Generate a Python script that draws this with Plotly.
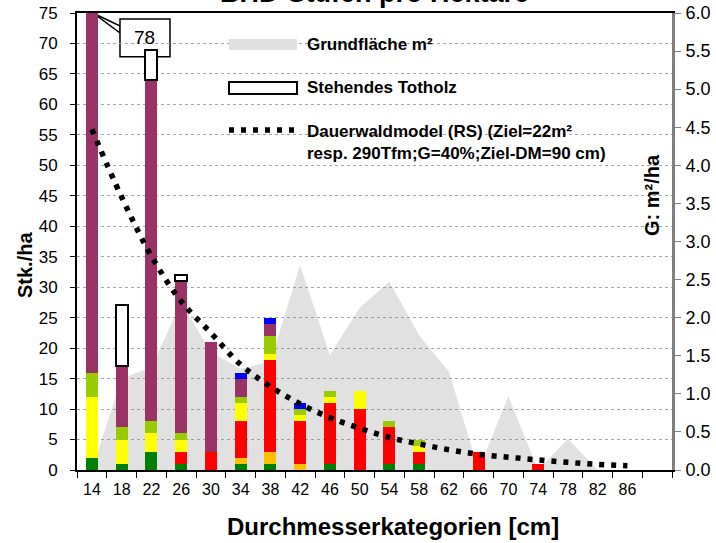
import plotly.graph_objects as go

categories = [14, 18, 22, 26, 30, 34, 38, 42, 46, 50, 54, 58, 62, 66, 70, 74, 78, 82, 86]
green      = [2, 1, 3, 1, 0, 1, 1, 0, 1, 0, 1, 1, 0, 0, 0, 0, 0, 0, 0]
orange     = [0, 0, 0, 0, 0, 1, 2, 1, 0, 0, 0, 0, 0, 0, 0, 0, 0, 0, 0]
red        = [0, 0, 0, 2, 3, 6, 15, 7, 10, 10, 6, 2, 0, 3, 0, 1, 0, 0, 0]
yellow     = [10, 4, 3, 2, 0, 3, 1, 1, 1, 3, 0, 1, 0, 0, 0, 0, 0, 0, 0]
lightgreen = [4, 2, 2, 1, 0, 1, 3, 1, 1, 0, 1, 1, 0, 0, 0, 0, 0, 0, 0]
purple     = [62, 10, 56, 25, 18, 3, 2, 0, 0, 0, 0, 0, 0, 0, 0, 0, 0, 0, 0]
blue       = [0, 0, 0, 0, 0, 1, 1, 1, 0, 0, 0, 0, 0, 0, 0, 0, 0, 0, 0]
totholz    = [0, 10, 5, 1, 0, 0, 0, 0, 0, 0, 0, 0, 0, 0, 0, 0, 0, 0, 0]
grundflaeche = [0.0, 1.2, 1.35, 2.2, 1.55, 1.33, 1.42, 2.69, 1.51, 2.13, 2.47,
                1.77, 1.29, 0.0, 0.97, 0.0, 0.41, 0.0, 0.0]
dauerwald  = [55.9, 44.8, 35.1, 27.7, 22.5, 17.3, 13.7, 10.85, 8.6, 6.85, 5.33,
              4.27, 3.33, 2.58, 2.1, 1.66, 1.26, 0.92, 0.7]
tick_labels = [str(c) for c in categories]

FONT = "Liberation Sans, Arial, sans-serif"

def nz(a):
    return [v if v else None for v in a]

fig = go.Figure()

# basal area (right axis = base y axis, so it is drawn beneath the bars)
fig.add_trace(go.Scatter(x=categories, y=grundflaeche, mode="lines", fill="tozeroy",
                         line=dict(width=0, color="rgba(0,0,0,0)"),
                         fillcolor="rgba(128,128,128,0.24)", yaxis="y", hoverinfo="skip",
                         showlegend=False))

stack = [(green, "#008000"), (orange, "#FFC000"), (red, "#FF0000"), (yellow, "#FFFF00"),
         (lightgreen, "#99CC00"), (purple, "#993366"), (blue, "#0000FF")]
for vals, col in stack:
    fig.add_trace(go.Bar(x=categories, y=nz(vals), width=1.6,
                         marker=dict(color=col, line=dict(width=0)),
                         yaxis="y2", showlegend=False))
fig.add_trace(go.Bar(x=categories, y=nz(totholz), width=1.6,
                     marker=dict(color="white", line=dict(width=2, color="black")),
                     yaxis="y2", showlegend=False))

fig.add_trace(go.Scatter(x=categories, y=dauerwald, mode="lines", line_shape="spline",
                         line=dict(color="black", width=5.5, dash="5px,7px"),
                         yaxis="y2", showlegend=False))

total14 = green[0] + orange[0] + red[0] + yellow[0] + lightgreen[0] + purple[0] + blue[0]

LEFT_MAX, RIGHT_MAX = 75, 6
k = RIGHT_MAX / LEFT_MAX  # convert left-axis units to base (right) axis units

fig.update_layout(
    width=716, height=543,
    margin=dict(l=77, r=44, t=13, b=73, autoexpand=False),
    paper_bgcolor="white", plot_bgcolor="white",
    barmode="stack", bargap=0,
    font=dict(family=FONT, color="black", size=16),
    showlegend=False,
    xaxis=dict(range=[12, 92], tickmode="array", tickvals=categories, ticktext=tick_labels,
               ticks="", showline=True, linecolor="black", linewidth=2, mirror=True,
               showgrid=False, zeroline=False, ticklabelstandoff=4, automargin=False,
               tickfont=dict(family=FONT, size=16),
               minor=dict(tickmode="linear", tick0=12, dtick=4, ticks="outside",
                          ticklen=6, tickcolor="black", tickwidth=1, showgrid=False)),
    yaxis=dict(side="right", range=[0, RIGHT_MAX], dtick=0.5, tickformat=".1f",
               showline=True, linecolor="#808080", linewidth=3, ticks="outside",
               tickcolor="#808080", ticklen=6, tickwidth=1, showgrid=False, zeroline=False,
               ticklabelstandoff=1, automargin=False,
               tickfont=dict(family=FONT, size=18)),
    yaxis2=dict(side="left", overlaying="y", range=[0, LEFT_MAX], dtick=5,
                showline=True, linecolor="black", linewidth=2, ticks="outside",
                ticklen=5, tickcolor="black", tickwidth=1, ticklabelstandoff=9,
                showgrid=True, gridcolor="#a6a6a6", griddash="dot", gridwidth=1,
                zeroline=False, automargin=False, tickfont=dict(family=FONT, size=17)),
)

# callout box for the clipped first bar
fig.add_shape(type="path", xref="x", yref="y", layer="below",
              path=f"M 14.15 {75*k} L 17.8 {72.87*k} L 17.8 {71.72*k} Z",
              fillcolor="white", line=dict(color="black", width=1.5))
fig.add_shape(type="rect", xref="x", yref="y", layer="below",
              x0=17.78, x1=24.5, y0=67.83 * k, y1=74.02 * k,
              fillcolor="white", line=dict(color="black", width=1.5))
fig.add_annotation(x=21.14, y=70.9 * k, xref="x", yref="y", text=str(total14), showarrow=False,
                   xanchor="center", yanchor="middle",
                   font=dict(family=FONT, size=19))

# legend (drawn manually)
fig.add_shape(type="rect", xref="paper", yref="paper", x0=0.2555, x1=0.3697, y0=0.919, y1=0.9431,
              fillcolor="#e0e0e0", line=dict(width=0))
fig.add_shape(type="rect", xref="paper", yref="paper", x0=0.2555, x1=0.3697, y0=0.8228, y1=0.849,
              fillcolor="white", line=dict(width=2, color="black"))
fig.add_shape(type="line", xref="paper", yref="paper", x0=0.2555, x1=0.37, y0=0.744, y1=0.744,
              line=dict(width=5.5, color="black", dash="5px,7px"))
leg_font = dict(family=FONT, size=17, color="black")
fig.add_annotation(x=0.3832, y=0.930, xref="paper", yref="paper", xanchor="left", yanchor="middle",
                   text="<b>Grundfläche m²</b>", showarrow=False, font=leg_font)
fig.add_annotation(x=0.3832, y=0.8359, xref="paper", yref="paper", xanchor="left", yanchor="middle",
                   text="<b>Stehendes Totholz</b>", showarrow=False, font=leg_font)
fig.add_annotation(x=0.3832, y=0.7177, xref="paper", yref="paper", xanchor="left", yanchor="middle",
                   align="left",
                   text="<b>Dauerwaldmodel (RS) (Ziel=22m²<br>resp. 290Tfm;G=40%;Ziel-DM=90 cm)</b>",
                   showarrow=False, font=leg_font)

# axis titles
fig.add_annotation(x=(25 - 77) / 595, y=(470 - 265) / 457, xref="paper", yref="paper",
                   xanchor="center", yanchor="middle", text="<b>Stk./ha</b>",
                   textangle=-90, showarrow=False, font=dict(family=FONT, size=20))
fig.add_annotation(x=(652 - 77) / 595, y=(470 - 195) / 457, xref="paper", yref="paper",
                   xanchor="center", yanchor="middle",
                   text="<b>G: m²/ha</b>", textangle=-90, showarrow=False,
                   font=dict(family=FONT, size=20))
fig.add_annotation(x=(393 - 77) / 595, y=-(526 - 470) / 457, xref="paper", yref="paper",
                   xanchor="center", yanchor="middle",
                   text="<b>Durchmesserkategorien [cm]</b>", showarrow=False,
                   font=dict(family=FONT, size=24))
# title (partly cut off at the top of the picture)
fig.add_annotation(x=(374 - 77) / 595, y=1 + 3 / 457, xref="paper", yref="paper", xanchor="center",
                   yanchor="bottom",
                   text="<b>BHD-Stufen pro Hektare</b>", showarrow=False,
                   font=dict(family=FONT, size=27))

fig.write_html("out.html", config={"displayModeBar": False},
               post_script="document.body.style.margin='0px';")
